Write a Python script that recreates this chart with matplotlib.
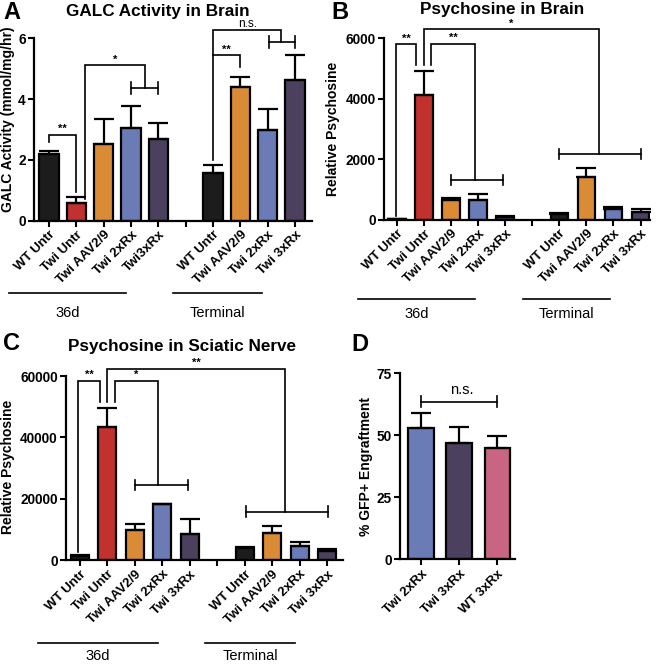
import numpy as np
import matplotlib
matplotlib.use("Agg")
import matplotlib.pyplot as plt
import matplotlib.transforms as mtransforms

plt.rcParams["font.family"] = ["Liberation Sans", "DejaVu Sans"]
plt.rcParams["font.weight"] = "bold"

BLACK = "#1c1c1c"
RED = "#c1312d"
ORANGE = "#d98b36"
BLUE = "#6b7bb6"
PURPLE = "#4b405d"
PINK = "#c96582"

# data (36d group, gap, terminal group)
labels_a = ["WT Untr", "Twi Untr", "Twi AAV2/9", "Twi 2xRx", "Twi3xRx", "",
            "WT Untr", "Twi AAV2/9", "Twi 2xRx", "Twi 3xRx"]
labels_bc = ["WT Untr", "Twi Untr", "Twi AAV2/9", "Twi 2xRx", "Twi 3xRx", "",
             "WT Untr", "Twi AAV2/9", "Twi 2xRx", "Twi 3xRx"]
colors_10 = [BLACK, RED, ORANGE, BLUE, PURPLE, None, BLACK, ORANGE, BLUE, PURPLE]

galc = [2.18, 0.57, 2.51, 3.06, 2.69, np.nan, 1.56, 4.38, 2.97, 4.63]
galc_err = [0.12, 0.22, 0.82, 0.71, 0.51, np.nan, 0.28, 0.36, 0.70, 0.82]

psy_brain = [20, 4130, 655, 640, 95, np.nan, 190, 1400, 360, 250]
psy_brain_err = [5, 800, 70, 190, 20, np.nan, 30, 290, 50, 100]

psy_nerve = [1400, 43500, 9800, 18100, 8500, np.nan, 3800, 8900, 4700, 2900]
psy_nerve_err = [200, 6000, 1800, 300, 4800, np.nan, 300, 2200, 1300, 700]

labels_d = ["Twi 2xRx", "Twi 3xRx", "WT 3xRx"]
colors_d = [BLUE, PURPLE, PINK]
engraft = [52.8, 46.8, 44.8]
engraft_err = [6.3, 6.4, 4.9]

W, H = 660, 664
fig = plt.figure(figsize=(W / 100, H / 100), dpi=100)

TICK_FS = 9.8
YLAB_FS = 10
TITLE_FS = 12.3


def make_ax(left, right, top, bottom):
    # pixel box -> figure fraction
    return fig.add_axes([left / W, 1 - bottom / H, (right - left) / W, (bottom - top) / H])


def style(ax):
    for s in ["top", "right"]:
        ax.spines[s].set_visible(False)
    for s in ["left", "bottom"]:
        ax.spines[s].set_linewidth(1.6)
    ax.tick_params(width=1.5, length=4, labelsize=TICK_FS, pad=2)
    for t in ax.get_yticklabels():
        t.set_fontweight("bold")


def bars(ax, vals, errs, colors, width):
    x = np.arange(len(vals))
    for i in x:
        if np.isnan(vals[i]):
            continue
        ax.bar(i, vals[i], width, color=colors[i], edgecolor="black", linewidth=1.6,
               yerr=[[0], [errs[i]]], capsize=7,
               error_kw=dict(elinewidth=1.6, capthick=1.6, ecolor="black"), zorder=2)


def xlabels(ax, labels):
    ax.set_xticks(range(len(labels)))
    ax.set_xticklabels(labels, rotation=45, ha="right", rotation_mode="anchor",
                       fontsize=9.5, fontweight="bold")


def bracket(ax, xl, xr, ytop, yl, yr, label, dy, fs=8):
    ax.plot([xl, xl, xr, xr], [yl, ytop, ytop, yr], color="black", lw=1.2,
            clip_on=False, solid_joinstyle="miter")
    ax.text((xl + xr) / 2, ytop + dy, label, ha="center", va="bottom",
            fontsize=fs, fontweight="normal" if label == "n.s." else "bold")


def subbar(ax, s0, s1, y, c):
    ax.plot([s0, s1], [y, y], color="black", lw=1.2, clip_on=False)
    ax.plot([s0, s0], [y - c, y + c], color="black", lw=1.2, clip_on=False)
    ax.plot([s1, s1], [y - c, y + c], color="black", lw=1.2, clip_on=False)


def groups(ax, line36, lineterm, yline, ytext):
    tr = mtransforms.blended_transform_factory(ax.transData, ax.transAxes)
    for (a, b), name in [(line36, "36d"), (lineterm, "Terminal")]:
        ax.plot([a, b], [yline, yline], color="black", lw=1.2, transform=tr, clip_on=False)
        ax.text((a + b) / 2, ytext, name, transform=tr, ha="center", va="center",
                fontsize=10.5, fontweight="normal")


# ---------------- A ----------------
axA = make_ax(34, 312, 38.3, 220.5)
bars(axA, galc, galc_err, colors_10, 0.7)
axA.set_xlim(-0.55, 9.62)
axA.set_ylim(0, 6)
axA.set_yticks([0, 2, 4, 6])
style(axA)
xlabels(axA, labels_a)
axA.set_ylabel("GALC Activity (mmol/mg/hr)", fontsize=YLAB_FS, fontweight="bold")
axA.yaxis.set_label_coords(-0.068, 0.555)
axA.text(0.445, 1.145, "GALC Activity in Brain", transform=axA.transAxes,
         ha="center", va="center", fontsize=TITLE_FS, fontweight="bold")
bracket(axA, 0, 1, 2.83, 2.58, 0.95, "**", 0.02)
bracket(axA, 1.32, 3.5, 5.12, 0.72, 4.35, "*", 0.02)
subbar(axA, 3.0, 4.0, 4.35, 0.2)
bracket(axA, 6.0, 7.0, 5.45, 2.0, 5.05, "**", 0.02)
bracket(axA, 6.0, 8.5, 6.26, 5.45, 5.88, "n.s.", 0.02, fs=8.5)
subbar(axA, 8.05, 9.0, 5.88, 0.2)
groups(axA, (-1.47, 2.83), (4.52, 7.79), -0.40, -0.51)

# ---------------- B ----------------
axB = make_ax(384, 650, 38.3, 219.5)
bars(axB, psy_brain, psy_brain_err, colors_10, 0.65)
axB.set_xlim(-0.48, 9.35)
axB.set_ylim(0, 6000)
axB.set_yticks([0, 2000, 4000, 6000])
style(axB)
xlabels(axB, labels_bc)
axB.set_ylabel("Relative Psychosine", fontsize=YLAB_FS, fontweight="bold")
axB.yaxis.set_label_coords(-0.165, 0.5)
axB.text(0.445, 1.16, "Psychosine in Brain", transform=axB.transAxes,
         ha="center", va="center", fontsize=TITLE_FS, fontweight="bold")
bracket(axB, -0.05, 0.72, 5800, 110, 5130, "**", 30)
bracket(axB, 0.98, 7.45, 6300, 5130, 2180, "*", 10)
subbar(axB, 6.0, 9.0, 2180, 170)
bracket(axB, 1.25, 2.9, 5820, 5130, 1300, "**", 30)
subbar(axB, 2.0, 3.9, 1300, 170)
groups(axB, (-1.45, 2.9), (4.65, 7.88), -0.44, -0.52)

# ---------------- C ----------------
axC = make_ax(66, 343, 376, 560)
bars(axC, psy_nerve, psy_nerve_err, colors_10, 0.65)
axC.set_xlim(-0.5, 9.58)
axC.set_ylim(0, 60000)
axC.set_yticks([0, 20000, 40000, 60000])
style(axC)
xlabels(axC, labels_bc)
axC.set_ylabel("Relative Psychosine", fontsize=YLAB_FS, fontweight="bold")
axC.yaxis.set_label_coords(-0.185, 0.505)
axC.text(0.42, 1.16, "Psychosine in Sciatic Nerve", transform=axC.transAxes,
         ha="center", va="center", fontsize=TITLE_FS, fontweight="bold")
bracket(axC, -0.05, 0.73, 58400, 2700, 51600, "**", 300)
bracket(axC, 1.0, 7.48, 62300, 51600, 15800, "**", 300)
subbar(axC, 6.05, 9.05, 15800, 1700)
bracket(axC, 1.28, 2.86, 58400, 51600, 24500, "*", 300)
subbar(axC, 2.0, 3.95, 24500, 1700)
groups(axC, (-1.53, 2.85), (4.56, 7.85), -0.45, -0.52)

# ---------------- D ----------------
axD = make_ax(400, 515, 373.3, 559.3)
x = np.arange(len(engraft))
axD.bar(x, engraft, 0.66, color=colors_d, edgecolor="black", linewidth=1.6,
        yerr=[np.zeros(len(engraft)), engraft_err], capsize=7,
        error_kw=dict(elinewidth=1.6, capthick=1.6, ecolor="black"), zorder=2)
axD.set_xlim(-0.55, 2.47)
axD.set_ylim(0, 75)
axD.set_yticks([0, 25, 50, 75])
style(axD)
xlabels(axD, labels_d)
axD.set_ylabel("% GFP+ Engraftment", fontsize=YLAB_FS, fontweight="bold")
axD.yaxis.set_label_coords(-0.235, 0.5)
subbar(axD, 0, 2, 63.6, 2.3)
axD.text(1.07, 65.5, "n.s.", ha="center", va="bottom", fontsize=10.5, fontweight="normal")

# panel letters
for lx, ly, s in [(3, 1, "A"), (331, 1, "B"), (3, 332, "C"), (351, 333, "D")]:
    fig.text(lx / W, 1 - ly / H, s, ha="left", va="top", fontsize=17, fontweight="bold")

fig.savefig("out.png", dpi=100)
